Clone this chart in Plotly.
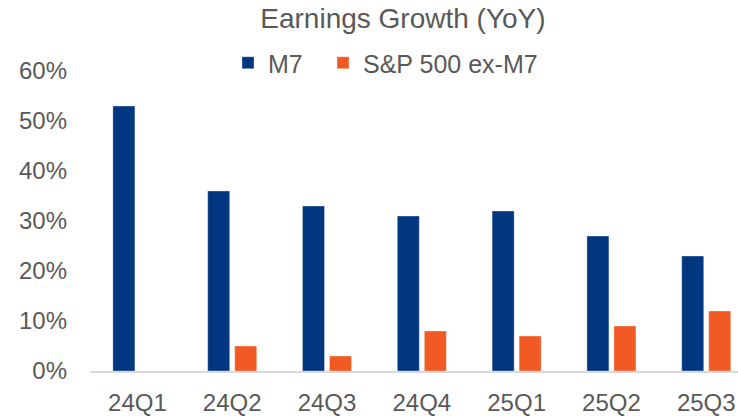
import plotly.graph_objects as go

categories = ["24Q1", "24Q2", "24Q3", "24Q4", "25Q1", "25Q2", "25Q3"]
m7_growth = [53, 36, 33, 31, 32, 27, 23]
sp_ex_m7_growth = [0, 5, 3, 8, 7, 9, 12]
y_ticks = [0, 10, 20, 30, 40, 50, 60]
y_tick_labels = [f"{v}%" for v in y_ticks]

FONT = "Liberation Sans, Arial, sans-serif"
GRAY = "#595959"

fig = go.Figure()
fig.add_bar(x=categories, y=m7_growth, name="M7", legend="legend",
            marker=dict(color="#003780", line=dict(color="rgba(255,255,255,0.35)", width=1)))
fig.add_bar(x=categories, y=sp_ex_m7_growth, name="S&P 500 ex-M7", legend="legend2",
            marker=dict(color="#F15A22", line=dict(color="rgba(255,255,255,0.35)", width=1)))

legend_common = dict(orientation="h", xref="container", yref="container",
                     xanchor="left", y=1 - 63 / 417, yanchor="middle",
                     font=dict(size=25, color=GRAY, family=FONT),
                     bgcolor="rgba(0,0,0,0)", itemclick=False)

fig.update_layout(
    width=738, height=417,
    margin=dict(l=90, r=0, t=71, b=46, autoexpand=False),
    paper_bgcolor="white", plot_bgcolor="white",
    barmode="group", bargap=0.43, bargroupgap=0.185,
    font=dict(family=FONT, color=GRAY, size=24),
    title=dict(text="Earnings Growth (YoY)", x=0.546, xref="container", xanchor="center",
               y=1 - 18.5 / 417, yref="container", yanchor="middle",
               font=dict(size=28, color=GRAY, family=FONT)),
    legend=dict(x=228 / 738, **legend_common),
    legend2=dict(x=323 / 738, **legend_common),
    showlegend=True,
)
fig.update_xaxes(type="category", range=[-0.5, 6.335], showgrid=False, automargin=False,
                 showline=True, linecolor="#D9D9D9", linewidth=1.5,
                 ticks="", ticklabelstandoff=9, tickfont=dict(size=24, color=GRAY))
fig.update_yaxes(range=[0, 60], tickvals=y_ticks, ticktext=y_tick_labels, automargin=False,
                 showgrid=False, zeroline=False, showline=False,
                 ticks="", ticklabelstandoff=22, tickfont=dict(size=24, color=GRAY))

fig.write_html("out.html", config={"displayModeBar": False},
               post_script="document.body.style.margin='0';document.body.style.overflow='hidden';")
